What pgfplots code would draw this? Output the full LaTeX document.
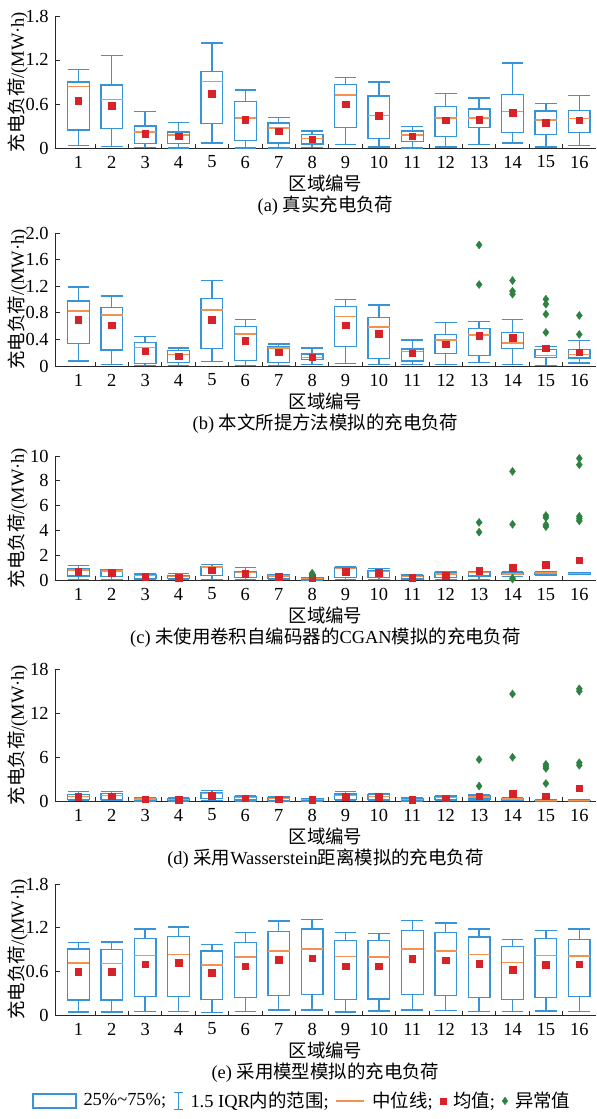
\documentclass[border=0pt]{standalone}
\usepackage{fontspec}
\setmainfont{Liberation Serif}
\newfontfamily\cjk{Noto Sans CJK SC}
\usepackage{pgfplots}
\pgfplotsset{compat=1.18}
\usepgfplotslibrary{statistics}

\definecolor{boxblue}{RGB}{55,148,215}
\definecolor{medorange}{RGB}{242,145,80}
\definecolor{meanred}{RGB}{215,35,40}
\definecolor{outgreen}{RGB}{45,130,65}
\definecolor{axgray}{RGB}{40,40,40}

% box: position, lower whisker, lower quartile, median, upper quartile, upper whisker
\newcommand{\bx}[6]{\addplot[bstyle, boxplot prepared={draw direction=y, draw position=#1, lower whisker=#2, lower quartile=#3, median=#4, upper quartile=#5, upper whisker=#6}] coordinates {};}

\pgfplotsset{
  bstyle/.style={draw=boxblue, line width=1.35bp, solid,
    boxplot/draw direction=y,
    boxplot/box extend=0.65, boxplot/whisker extend=0.65,
    boxplot/every median/.style={draw=medorange, line width=1.5bp}},
  meanst/.style={only marks, mark=square*, mark size=3.3bp, color=meanred},
  outst/.style={only marks, mark=diamond*, mark size=4bp, color=outgreen},
  panel/.style={scale only axis, width=541bp, xmin=0.3, xmax=16.5, ymin=0,
    clip=false,
    axis lines*=left, axis line style={-, line width=0.8bp, axgray},
    tick align=inside, tick style={line width=0.8bp, axgray},
    major tick length=5bp, minor tick length=4bp,
    xtick={1,...,16},
    xticklabels={1,2,3,4,5,6,7,8,9,10,11,12,13,14,15,16},
    minor xtick={1.5,2.5,3.5,4.5,5.5,6.5,7.5,8.5,9.5,10.5,11.5,12.5,13.5,14.5,15.5},
    major x tick style={draw=none},
    xticklabel style={anchor=center, yshift=-14bp},
    xlabel={{\cjk 区域编号}},
    xlabel style={at={([yshift=-35bp]axis description cs:0.5,0)}, anchor=center},
    ylabel={{\cjk 充电负荷}/(MW·h)},
    ylabel style={at={([xshift=-37bp]axis description cs:0,0.5)}, anchor=center},
  },
}

\begin{document}
\fontsize{18.5}{22}\selectfont
\begin{tikzpicture}
\path[use as bounding box] (0,0) rectangle (597bp,-1119bp);

% ---------------- (a)
\begin{axis}[panel, at={(55bp,-148bp)}, anchor=south west, height=132bp,
  ymax=1.8, ytick={0,0.6,1.2,1.8}, yticklabels={0,0.6,1.2,1.8}]
\bx{1}{0.036}{0.245}{0.84}{0.90}{1.07}
\bx{2}{0.02}{0.27}{0.66}{0.86}{1.26}
\bx{3}{0.01}{0.06}{0.22}{0.30}{0.50}
\bx{4}{0.0}{0.06}{0.18}{0.22}{0.345}
\bx{5}{0.07}{0.33}{0.91}{1.04}{1.43}
\bx{6}{0.0}{0.10}{0.41}{0.63}{0.79}
\bx{7}{0.0}{0.07}{0.27}{0.34}{0.42}
\bx{8}{0.01}{0.055}{0.13}{0.18}{0.23}
\bx{9}{0.045}{0.28}{0.72}{0.87}{0.96}
\bx{10}{0.015}{0.13}{0.44}{0.71}{0.90}
\bx{11}{0.0}{0.085}{0.18}{0.23}{0.29}
\bx{12}{0.015}{0.155}{0.41}{0.57}{0.74}
\bx{13}{0.045}{0.28}{0.41}{0.53}{0.68}
\bx{14}{0.07}{0.21}{0.495}{0.73}{1.16}
\bx{15}{0.015}{0.18}{0.38}{0.505}{0.61}
\bx{16}{0.03}{0.215}{0.405}{0.51}{0.72}
\addplot[meanst] coordinates {(1,0.645) (2,0.58) (3,0.195) (4,0.16) (5,0.74) (6,0.385) (7,0.23) (8,0.12) (9,0.595) (10,0.44) (11,0.16) (12,0.38) (13,0.385) (14,0.48) (15,0.345) (16,0.38)};
\node at ([yshift=-58bp]axis description cs:0.5,0) {(a) {\cjk 真实充电负荷}};
\end{axis}

% ---------------- (b)
\begin{axis}[panel, at={(55bp,-366bp)}, anchor=south west, height=133bp,
  ymax=2.0, ytick={0,0.4,0.8,1.2,1.6,2.0}, yticklabels={0,0.4,0.8,1.2,1.6,2.0}]
\bx{1}{0.075}{0.34}{0.825}{0.98}{1.19}
\bx{2}{0.025}{0.24}{0.77}{0.88}{1.055}
\bx{3}{0.01}{0.04}{0.28}{0.35}{0.445}
\bx{4}{0.01}{0.05}{0.175}{0.235}{0.27}
\bx{5}{0.065}{0.26}{0.845}{1.015}{1.29}
\bx{6}{0.01}{0.08}{0.485}{0.59}{0.695}
\bx{7}{0.01}{0.055}{0.27}{0.29}{0.33}
\bx{8}{0.025}{0.095}{0.13}{0.18}{0.27}
\bx{9}{0.035}{0.295}{0.745}{0.895}{1.0}
\bx{10}{0.025}{0.115}{0.585}{0.725}{0.92}
\bx{11}{0.025}{0.075}{0.22}{0.255}{0.39}
\bx{12}{0.025}{0.19}{0.39}{0.475}{0.65}
\bx{13}{0.05}{0.155}{0.47}{0.56}{0.665}
\bx{14}{0.025}{0.265}{0.345}{0.505}{0.695}
\bx{15}{0.01}{0.125}{0.16}{0.25}{0.295}
\bx{16}{0.045}{0.12}{0.175}{0.25}{0.385}
\addplot[meanst] coordinates {(1,0.70) (2,0.615) (3,0.225) (4,0.15) (5,0.70) (6,0.385) (7,0.21) (8,0.13) (9,0.615) (10,0.49) (11,0.19) (12,0.325) (13,0.46) (14,0.43) (15,0.265) (16,0.21)};
\addplot[outst] coordinates {(13,1.82) (13,1.225) (14,1.285) (14,1.125) (14,1.08) (15,1.005) (15,0.93) (15,0.78) (15,0.505) (16,0.76) (16,0.475)};
\node at ([yshift=-58bp]axis description cs:0.5,0) {(b) {\cjk 本文所提方法模拟的充电负荷}};
\end{axis}

% ---------------- (c)
\begin{axis}[panel, at={(55bp,-580bp)}, anchor=south west, height=124bp,
  ymax=10, ytick={0,2,4,6,8,10}, yticklabels={0,2,4,6,8,10}]
\bx{1}{0.05}{0.32}{0.80}{0.88}{1.15}
\bx{2}{0.05}{0.30}{0.72}{0.80}{0.86}
\bx{3}{0.02}{0.10}{0.35}{0.43}{0.48}
\bx{4}{0.02}{0.10}{0.27}{0.35}{0.50}
\bx{5}{0.05}{0.37}{1.04}{1.09}{1.25}
\bx{6}{0.05}{0.21}{0.59}{0.64}{0.99}
\bx{7}{0.02}{0.10}{0.32}{0.40}{0.45}
\bx{8}{0.01}{0.05}{0.13}{0.16}{0.19}
\bx{9}{0.05}{0.21}{0.91}{0.99}{1.09}
\bx{10}{0.05}{0.21}{0.69}{0.77}{0.91}
\bx{11}{0.02}{0.08}{0.27}{0.35}{0.43}
\bx{12}{0.05}{0.21}{0.48}{0.59}{0.67}
\bx{13}{0.05}{0.32}{0.59}{0.64}{0.69}
\bx{14}{0.28}{0.42}{0.50}{0.58}{0.69}
\bx{15}{0.37}{0.43}{0.55}{0.62}{0.66}
\bx{16}{0.45}{0.48}{0.53}{0.56}{0.60}
\addplot[meanst] coordinates {(1,0.69) (2,0.60) (3,0.27) (4,0.21) (5,0.80) (6,0.50) (7,0.27) (8,0.20) (9,0.67) (10,0.59) (11,0.21) (12,0.37) (13,0.75) (14,0.99) (15,1.22) (16,1.6)};
\addplot[outst] coordinates {(8,0.55) (8,0.42) (13,4.65) (13,3.86) (14,8.76) (14,4.49) (14,0.15) (14,0.08) (15,5.2) (15,5.03) (15,4.46) (15,4.3) (16,9.81) (16,9.3) (16,5.13) (16,4.95) (16,4.76)};
\node at ([yshift=-58bp]axis description cs:0.5,0) {(c) {\cjk 未使用卷积自编码器的}CGAN{\cjk 模拟的充电负荷}};
\end{axis}

% ---------------- (d)
\begin{axis}[panel, at={(55bp,-801bp)}, anchor=south west, height=132bp,
  ymax=18, ytick={0,6,12,18}, yticklabels={0,6,12,18}]
\bx{1}{0.05}{0.18}{0.64}{0.90}{1.27}
\bx{2}{0.05}{0.18}{0.73}{1.0}{1.27}
\bx{3}{0.02}{0.09}{0.27}{0.36}{0.45}
\bx{4}{0.02}{0.09}{0.18}{0.27}{0.40}
\bx{5}{0.05}{0.36}{1.0}{1.18}{1.45}
\bx{6}{0.02}{0.14}{0.45}{0.64}{0.73}
\bx{7}{0.02}{0.09}{0.32}{0.45}{0.55}
\bx{8}{0.02}{0.09}{0.23}{0.27}{0.36}
\bx{9}{0.05}{0.18}{0.73}{0.95}{1.32}
\bx{10}{0.05}{0.18}{0.64}{0.86}{0.95}
\bx{11}{0.02}{0.05}{0.18}{0.27}{0.40}
\bx{12}{0.05}{0.18}{0.45}{0.64}{0.73}
\bx{13}{0.05}{0.27}{0.55}{0.73}{0.82}
\bx{14}{0.03}{0.10}{0.30}{0.36}{0.45}
\bx{15}{0.02}{0.05}{0.09}{0.11}{0.14}
\bx{16}{0.02}{0.05}{0.09}{0.11}{0.14}
\addplot[meanst] coordinates {(1,0.55) (2,0.64) (3,0.27) (4,0.18) (5,0.73) (6,0.36) (7,0.27) (8,0.18) (9,0.55) (10,0.55) (11,0.14) (12,0.40) (13,0.66) (14,1.02) (15,0.66) (16,1.73)};
\addplot[outst] coordinates {(13,5.66) (13,2.04) (14,14.6) (14,5.97) (15,5.0) (15,4.7) (15,4.45) (15,2.39) (16,15.3) (16,14.96) (16,5.22) (16,4.87)};
\node at ([yshift=-58bp]axis description cs:0.5,0) {(d) {\cjk 采用}Wasserstein{\cjk 距离模拟的充电负荷}};
\end{axis}

% ---------------- (e)
\begin{axis}[panel, at={(55bp,-1015bp)}, anchor=south west, height=131bp,
  ymax=1.8, ytick={0,0.6,1.2,1.8}, yticklabels={0,0.6,1.2,1.8},
  legend columns=5,
  legend style={draw=none, fill=none, at={(axis description cs:0.457,-0.656)}, anchor=center,
    /tikz/every odd column/.append style={column sep=5bp},
    /tikz/every even column/.append style={column sep=5bp}},
  legend cell align=left]
\addlegendimage{legend image code/.code={\draw[boxblue,line width=1.35bp] (0bp,-7bp) rectangle (43bp,7bp);}}
\addlegendentry{25\%\textasciitilde75\%;}
\addlegendimage{legend image code/.code={\draw[boxblue,line width=1.35bp] (0bp,-8.5bp)--(0bp,8.5bp) (-4.5bp,8.5bp)--(4.5bp,8.5bp) (-4.5bp,-8.5bp)--(4.5bp,-8.5bp);}}
\addlegendentry{1.5 IQR{\cjk 内的范围};}
\addlegendimage{legend image code/.code={\draw[medorange,line width=1.5bp] (0bp,0bp)--(28bp,0bp);}}
\addlegendentry{{\cjk 中位线};}
\addlegendimage{legend image code/.code={\fill[meanred] (-3bp,-3bp) rectangle (3bp,3bp);}}
\addlegendentry{{\cjk 均值};}
\addlegendimage{legend image code/.code={\fill[outgreen] (0bp,-3.8bp)--(2.8bp,0bp)--(0bp,3.8bp)--(-2.8bp,0bp)--cycle;}}
\addlegendentry{{\cjk 异常值}}
\bx{1}{0.04}{0.205}{0.714}{0.905}{1.0}
\bx{2}{0.04}{0.205}{0.705}{0.90}{1.005}
\bx{3}{0.05}{0.25}{0.82}{1.05}{1.18}
\bx{4}{0.05}{0.255}{0.83}{1.08}{1.21}
\bx{5}{0.036}{0.21}{0.69}{0.88}{0.97}
\bx{6}{0.05}{0.24}{0.795}{1.0}{1.13}
\bx{7}{0.07}{0.265}{0.88}{1.145}{1.29}
\bx{8}{0.07}{0.28}{0.91}{1.18}{1.31}
\bx{9}{0.04}{0.215}{0.805}{1.02}{1.135}
\bx{10}{0.055}{0.22}{0.795}{1.02}{1.12}
\bx{11}{0.07}{0.28}{0.905}{1.16}{1.295}
\bx{12}{0.064}{0.27}{0.88}{1.13}{1.265}
\bx{13}{0.045}{0.245}{0.83}{1.07}{1.18}
\bx{14}{0.045}{0.21}{0.72}{0.94}{1.04}
\bx{15}{0.055}{0.24}{0.82}{1.05}{1.165}
\bx{16}{0.05}{0.25}{0.81}{1.04}{1.18}
\addplot[meanst] coordinates {(1,0.595) (2,0.595) (3,0.70) (4,0.72) (5,0.58) (6,0.67) (7,0.76) (8,0.78) (9,0.67) (10,0.67) (11,0.77) (12,0.755) (13,0.705) (14,0.62) (15,0.69) (16,0.70)};
\node at ([yshift=-58bp]axis description cs:0.5,0) {(e) {\cjk 采用模型模拟的充电负荷}};
\end{axis}
\end{tikzpicture}
\end{document}
